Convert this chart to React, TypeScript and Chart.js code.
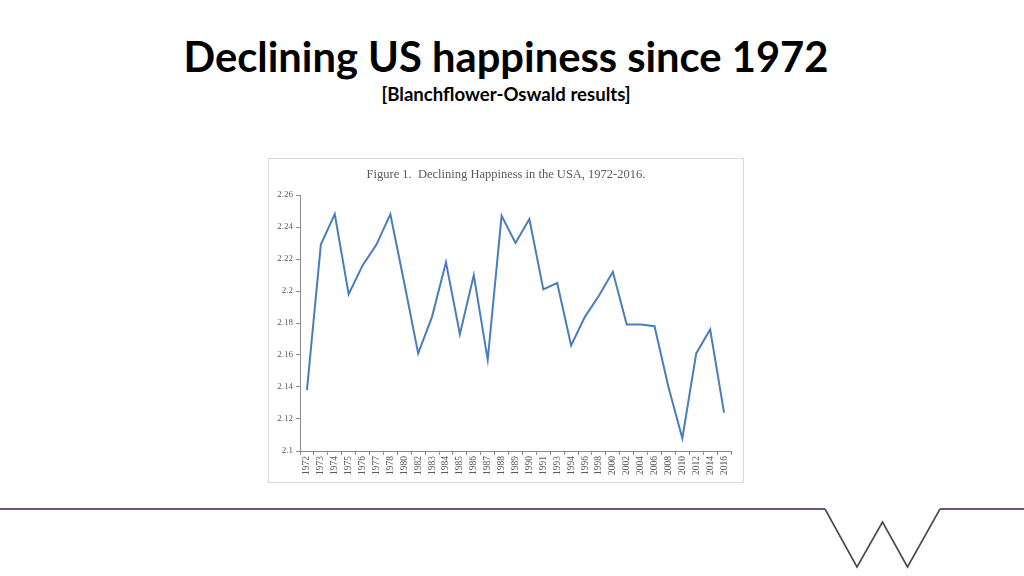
import React, { useEffect, useRef } from "react";
import { Chart, registerables } from "chart.js";

Chart.register(...registerables);

const years: string[] = [
  "1972", "1973", "1974", "1975", "1976", "1977", "1978", "1980", "1982", "1983",
  "1984", "1985", "1986", "1987", "1988", "1989", "1990", "1991", "1993", "1994",
  "1996", "1998", "2000", "2002", "2004", "2006", "2008", "2010", "2012", "2014", "2016",
];

const happiness: number[] = [
  2.138, 2.229, 2.248, 2.198, 2.216, 2.229, 2.248, 2.205, 2.161, 2.184,
  2.218, 2.173, 2.210, 2.157, 2.247, 2.230, 2.245, 2.201, 2.205, 2.166,
  2.184, 2.197, 2.212, 2.179, 2.179, 2.178, 2.140, 2.108, 2.161, 2.176, 2.124,
];

const yMin = 2.1;
const yMax = 2.26;
const yStep = 0.02;

const chartTitle = "Figure 1.  Declining Happiness in the USA, 1972-2016.";
const mainTitle = "Declining US happiness since 1972";
const subTitle = "[Blanchflower-Oswald results]";

const serif = "'Liberation Serif', 'DejaVu Serif', serif";

const centeredTitle = {
  id: "centeredTitle",
  afterDraw(chart: any) {
    const ctx = chart.ctx;
    ctx.save();
    ctx.font = `12.5px ${serif}`;
    ctx.fillStyle = "#595959";
    ctx.textAlign = "center";
    ctx.textBaseline = "middle";
    ctx.fillText(chartTitle, chart.width / 2, 15.5);
    ctx.restore();
  },
};

function FigureChart() {
  const ref = useRef<HTMLCanvasElement | null>(null);
  useEffect(() => {
    if (!ref.current) return;
    const chart = new Chart(ref.current, {
      type: "line",
      data: {
        labels: years,
        datasets: [
          {
            data: happiness,
            borderColor: "#4a7ebb",
            borderWidth: 2,
            pointRadius: 0,
            tension: 0,
            fill: false,
          },
        ],
      },
      plugins: [centeredTitle],
      options: {
        animation: false,
        responsive: true,
        maintainAspectRatio: false,
        layout: { padding: { left: 0, right: 12, top: 36, bottom: 0 } },
        plugins: {
          legend: { display: false },
          tooltip: { enabled: false },
          title: { display: false },
        },
        scales: {
          x: {
            type: "category",
            offset: true,
            grid: {
              offset: true,
              drawOnChartArea: false,
              drawTicks: true,
              tickLength: 4,
              color: "#8c8c8c",
            },
            border: { display: true, color: "#8c8c8c", width: 1 },
            ticks: {
              autoSkip: false,
              minRotation: 90,
              maxRotation: 90,
              padding: 1,
              color: "#595959",
              font: { family: serif, size: 9.5 },
            },
            afterFit: (scale: any) => {
              scale.height = 31;
            },
          },
          y: {
            min: yMin,
            max: yMax,
            grid: {
              drawOnChartArea: false,
              drawTicks: true,
              tickLength: 4,
              color: "#8c8c8c",
            },
            border: { display: true, color: "#8c8c8c", width: 1 },
            ticks: {
              stepSize: yStep,
              padding: 3,
              color: "#595959",
              font: { family: serif, size: 9 },
              callback: (v: any) => String(parseFloat(Number(v).toFixed(2))),
            },
            afterFit: (scale: any) => {
              scale.width = 31;
            },
          },
        },
      },
    });
    return () => chart.destroy();
  }, []);
  return <canvas ref={ref} />;
}

export default function App() {
  const sans = "Lato, 'Open Sans', 'DejaVu Sans', sans-serif";
  return (
    <div
      style={{
        position: "fixed",
        left: 0,
        top: 0,
        width: 1024,
        height: 576,
        background: "#ffffff",
        overflow: "hidden",
      }}
    >
      <div
        style={{
          position: "absolute",
          left: 0,
          top: 35,
          width: 1012,
          textAlign: "center",
          fontFamily: sans,
          fontWeight: 700,
          fontSize: 41.7,
          lineHeight: "42px",
          color: "#000",
          whiteSpace: "nowrap",
        }}
      >
        {mainTitle}
      </div>
      <div
        style={{
          position: "absolute",
          left: 0,
          top: 85,
          width: 1012,
          textAlign: "center",
          fontFamily: sans,
          fontWeight: 700,
          fontSize: 18.6,
          lineHeight: "18px",
          color: "#000",
          whiteSpace: "nowrap",
        }}
      >
        {subTitle}
      </div>
      <div
        style={{
          position: "absolute",
          left: 268,
          top: 158,
          width: 474,
          height: 323,
          border: "1px solid #d9d9d9",
          background: "#fff",
        }}
      >
        <FigureChart />
      </div>
      <svg
        width={1024}
        height={576}
        style={{ position: "absolute", left: 0, top: 0, pointerEvents: "none" }}
      >
        <polyline
          points="0,509 825,509"
          fill="none"
          stroke="#6a5880"
          strokeWidth={2.2}
        />
        <polyline
          points="940,509 1024,509"
          fill="none"
          stroke="#6a5880"
          strokeWidth={2.2}
        />
        <polyline
          points="825,509 857,567 882.5,522 907.5,567 940,509"
          fill="none"
          stroke="#4d4556"
          strokeWidth={1.6}
          strokeLinejoin="miter"
        />
      </svg>
    </div>
  );
}
